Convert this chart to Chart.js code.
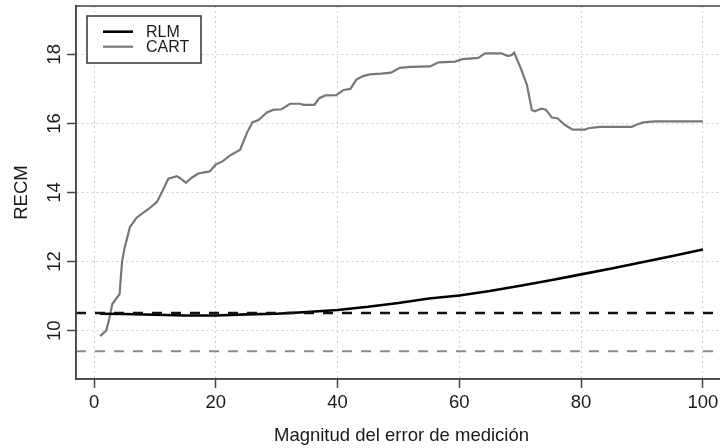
<!DOCTYPE html>
<html><head><meta charset="utf-8">
<script src="https://cdn.jsdelivr.net/npm/chart.js@4.4.1/dist/chart.umd.min.js"></script>
<style>html,body{margin:0;padding:0;background:#fff;overflow:hidden;width:720px;height:448px}
#wrap{width:740px;height:448px}</style></head>
<body><div id="wrap"><canvas id="c" width="740" height="448"></canvas></div>
<script>
// ---- data ----
const seriesNames = ['RLM', 'CART'];
const rlmX = [1, 5, 10, 15, 20, 25, 30, 35, 40, 45, 50, 55, 60, 65, 70, 75, 80, 85, 90, 95, 100];
const rlmY = [10.49, 10.48, 10.46, 10.44, 10.44, 10.47, 10.49, 10.54, 10.6, 10.69, 10.8, 10.93, 11.02, 11.15, 11.3, 11.46, 11.63, 11.8, 11.98, 12.16, 12.35];
const cartX = [1, 2, 2.5, 3, 4.2, 4.6, 5, 5.9, 7, 9, 10.3, 11.1, 12.2, 13.6, 14.1, 15.1, 16, 17.1, 19, 20, 21.1, 22.3, 24, 25.1, 26, 27, 28.4, 29.4, 30.8, 32.2, 33.8, 34.4, 36.2, 37, 38, 39.8, 41, 42.1, 43.1, 44.2, 45.3, 47.2, 48.8, 50.2, 52, 55.2, 56.6, 59.3, 60.5, 63.1, 64.2, 66.9, 68, 68.6, 69, 70, 71.1, 71.9, 72.4, 73.5, 74.2, 75.2, 76.1, 77.3, 78.6, 80.6, 81.2, 83.1, 88.3, 89.1, 90.2, 92.1, 100];
const cartY = [9.84, 10.0, 10.34, 10.77, 11.06, 12.0, 12.38, 13.0, 13.27, 13.53, 13.72, 13.99, 14.4, 14.47, 14.42, 14.28, 14.42, 14.55, 14.61, 14.81, 14.9, 15.07, 15.24, 15.72, 16.03, 16.1, 16.32, 16.39, 16.41, 16.57, 16.57, 16.54, 16.54, 16.73, 16.81, 16.82, 16.97, 17.0, 17.27, 17.37, 17.42, 17.44, 17.47, 17.61, 17.64, 17.65, 17.77, 17.79, 17.86, 17.9, 18.03, 18.03, 17.95, 17.98, 18.05, 17.64, 17.12, 16.39, 16.35, 16.43, 16.4, 16.17, 16.15, 15.96, 15.82, 15.82, 15.86, 15.9, 15.9, 15.96, 16.03, 16.06, 16.06];
const rlmReference = 10.51;
const cartReference = 9.40;
const xTicks = [0, 20, 40, 60, 80, 100];
const yTicks = [10, 12, 14, 16, 18];
const xRange = [-2.96, 103.96];
const yRange = [8.6, 19.4];
const xTitle = 'Magnitud del error de medición';
const yTitle = 'RECM';

// ---- styles ----
const FONT = 'Liberation Sans, Arial, sans-serif';
const TXT = '#1a1a1a';
const AX = '#444';
const COL_RLM = '#000000';
const COL_CART = '#777777';
const COL_CART_REF = '#8a8a8a';

const toXY = (xs, ys) => xs.map((x, i) => ({x, y: ys[i]}));
const hline = (v) => [{x: xRange[0], y: v}, {x: xRange[1], y: v}];

const boxAndLegend = {
  id: 'boxAndLegend',
  afterDatasetsDraw(chart) {
    const {ctx, chartArea: a} = chart;
    ctx.save();
    ctx.strokeStyle = AX; ctx.lineWidth = 1.5;
    ctx.strokeRect(a.left, a.top, a.right - a.left, a.bottom - a.top);
    // legend (top-left inside plot)
    const lx = a.left + 11, ly = a.top + 10, lw = 114, lh = 47;
    ctx.fillStyle = '#fff';
    ctx.fillRect(lx, ly, lw, lh);
    ctx.strokeStyle = '#333'; ctx.lineWidth = 1.5;
    ctx.strokeRect(lx, ly, lw, lh);
    const ds = chart.data.datasets;
    ctx.font = '16px ' + FONT;
    ctx.textBaseline = 'middle';
    ctx.textAlign = 'left';
    [0, 1].forEach((i) => {
      const yy = ly + 15.7 + i * 15;
      ctx.beginPath();
      ctx.strokeStyle = ds[i].borderColor;
      ctx.lineWidth = ds[i].borderWidth;
      ctx.moveTo(lx + 16, yy); ctx.lineTo(lx + 46, yy);
      ctx.stroke();
      ctx.fillStyle = TXT;
      ctx.fillText(ds[i].label, lx + 59, yy + 1);
    });
    ctx.restore();
  }
};

new Chart(document.getElementById('c'), {
  type: 'line',
  data: {
    datasets: [
      {label: seriesNames[0], data: toXY(rlmX, rlmY), borderColor: COL_RLM, borderWidth: 2.6, pointRadius: 0, tension: 0, order: 3},
      {label: seriesNames[1], data: toXY(cartX, cartY), borderColor: COL_CART, borderWidth: 2.2, pointRadius: 0, tension: 0, order: 3},
      {label: 'ref RLM', data: hline(rlmReference), borderColor: '#111', borderWidth: 2.6, borderDash: [10, 9], pointRadius: 0, order: 1},
      {label: 'ref CART', data: hline(cartReference), borderColor: COL_CART_REF, borderWidth: 2, borderDash: [10, 9], pointRadius: 0, order: 1}
    ]
  },
  options: {
    responsive: false,
    animation: false,
    devicePixelRatio: 1,
    layout: {padding: {top: 6, right: 13, left: 0, bottom: 0}},
    plugins: {legend: {display: false}, tooltip: {enabled: false}},
    scales: {
      x: {
        type: 'linear', min: xRange[0], max: xRange[1],
        afterBuildTicks: (s) => { s.ticks = xTicks.map(v => ({value: v})); },
        afterFit: (s) => { s.height = 69; s.paddingLeft = 0; s.paddingRight = 0; },
        ticks: {color: TXT, font: {family: FONT, size: 18.5}, padding: 4, maxRotation: 0, autoSkip: false},
        grid: {color: '#cfcfcf', lineWidth: 1, tickLength: 9, tickColor: AX, tickWidth: 1.5, tickBorderDash: []},
        border: {display: true, color: AX, width: 1.5, dash: [2, 3]},
        title: {display: true, text: xTitle, color: TXT, font: {family: FONT, size: 18.5}, padding: {top: 0, bottom: 1}}
      },
      y: {
        type: 'linear', min: yRange[0], max: yRange[1],
        afterBuildTicks: (s) => { s.ticks = yTicks.map(v => ({value: v})); },
        afterFit: (s) => { s.width = 76; s.paddingTop = 0; s.paddingBottom = 0; },
        ticks: {color: TXT, font: {family: FONT, size: 18.5}, padding: 2, minRotation: 90, maxRotation: 90, crossAlign: 'center', autoSkip: false},
        grid: {color: '#cfcfcf', lineWidth: 1, tickLength: 9, tickColor: AX, tickWidth: 1.5, tickBorderDash: []},
        border: {display: true, color: AX, width: 1.5, dash: [2, 3]},
        title: {display: true, text: yTitle, color: TXT, font: {family: FONT, size: 18.5}, padding: {top: 10.5, bottom: 0}}
      }
    }
  },
  plugins: [boxAndLegend]
});
</script>
</body></html>
